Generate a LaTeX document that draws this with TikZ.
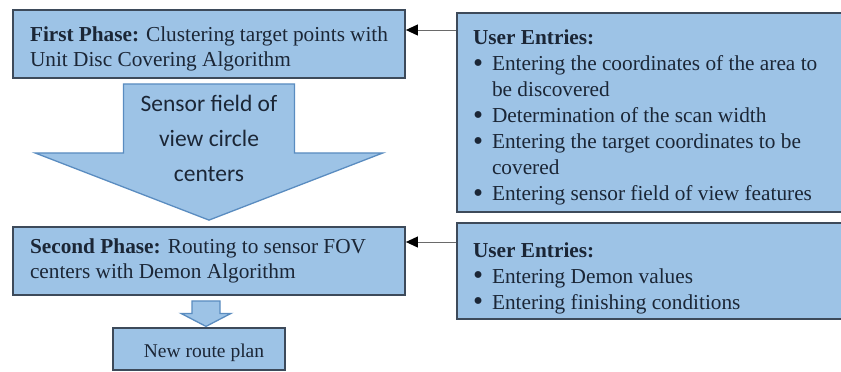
\documentclass[tikz,border=0pt]{standalone}
\usepackage{fontspec}
\setmainfont{Liberation Serif}
\newfontfamily\arrowfont{Carlito}
\usetikzlibrary{arrows.meta,calc}
\definecolor{boxfill}{HTML}{9DC3E6}
\definecolor{boxline}{HTML}{3D4A5A}
\definecolor{ink}{HTML}{1B2636}
\definecolor{arrline}{HTML}{5A8CC0}
\definecolor{feedline}{HTML}{6A6A6A}
\newcommand\ub{\makebox[19pt][l]{\raisebox{-1.6pt}{\scalebox{1.35}{\textbullet}}}}
\newcommand\ui{\hspace*{19pt}}
\newcommand\strutto[1]{\rule{0pt}{#1}}
\begin{document}
\begin{tikzpicture}[x=1pt,y=-1pt,
  box/.style={draw=boxline, line width=1.8pt, fill=boxfill, text=ink,
    inner ysep=0pt},
  phase/.style={box, align=flush left, inner xsep=17pt, text width=358pt,
    minimum height=68pt, font=\fontsize{21.3}{25.5}\selectfont},
  entries/.style={box, align=flush left, inner xsep=16pt, text width=373pt,
    font=\fontsize{21.3}{26}\selectfont},
  result/.style={box, align=center, minimum width=172pt, minimum height=42pt,
    inner xsep=0pt, font=\fontsize{19.5}{23}\selectfont},
  blockarrow/.style={draw=arrline, line width=1.3pt, fill=boxfill, line join=miter},
  arrowtext/.style={text=ink, align=center, font=\arrowfont\fontsize{23.5}{35}\selectfont},
  feed/.style={draw=feedline, line width=1pt, -{Triangle[length=12pt,width=11pt,fill=black,color=black]}}
]
\useasboundingbox (0,0) rectangle (841,372);
\fill[white] (0,0) rectangle (841,372);
\clip (0,0) rectangle (841,372);

% left column: the two phases and the result
\node[phase] (p1) at (209,44)
  {\strutto{25pt}\textbf{First Phase:} Clustering target points with\\Unit Disc Covering Algorithm};
\node[phase] (p2) at (209,261)
  {\textbf{Second Phase:} Routing to sensor FOV\\centers with Demon Algorithm};
\node[result] (r) at (199,349) {\strutto{21pt}\hspace*{10pt}New route plan};

% right column: user inputs of each phase
\node[entries, minimum height=199pt] (u1) at (659.5,112.5)
  {\strutto{25pt}\textbf{User Entries:}\\
   \ub Entering the coordinates of the area to\\
   \ui be discovered\\
   \ub Determination of the scan width\\
   \ub Entering the target coordinates to be\\
   \ui covered\\
   \ub Entering sensor field of view features};
\node[entries, minimum height=96pt] (u2) at (659.5,271)
  {\strutto{29pt}\textbf{User Entries:}\\
   \ub Entering Demon values\\
   \ub Entering finishing conditions};

% inputs feeding the phases
\coordinate (e1) at (430,30);
\coordinate (e2) at (430,242);
\draw[feed] (u1.west |- e1) -- (p1.east |- e1);
\draw[feed] (u2.west |- e2) -- (p2.east |- e2);

% big block arrow between the phases
\coordinate (bt) at ($(p1.south)+(0,5)$);
\coordinate (bp) at ($(p2.north)+(0,-6)$);
\draw[blockarrow] ($(bt)+(-85.5,0)$) -- ($(bt)+(85.5,0)$) -- ($(bt)+(85.5,69)$)
  -- ($(bt)+(174,69)$) -- (bp) -- ($(bt)+(-174,69)$) -- ($(bt)+(-85.5,69)$) -- cycle;
\node[arrowtext] (fov) at (209,138) {Sensor field of\\view circle\\centers};

% small block arrow to the result
\coordinate (st) at ($(p2.south)+(-3,5)$);
\coordinate (sp) at ($(st)+(0,25.5)$);
\draw[blockarrow] ($(st)+(-14,0)$) -- ($(st)+(14,0)$) -- ($(st)+(14,12.5)$)
  -- ($(st)+(25,12.5)$) -- (sp) -- ($(st)+(-25,12.5)$) -- ($(st)+(-14,12.5)$) -- cycle;
\end{tikzpicture}
\end{document}
